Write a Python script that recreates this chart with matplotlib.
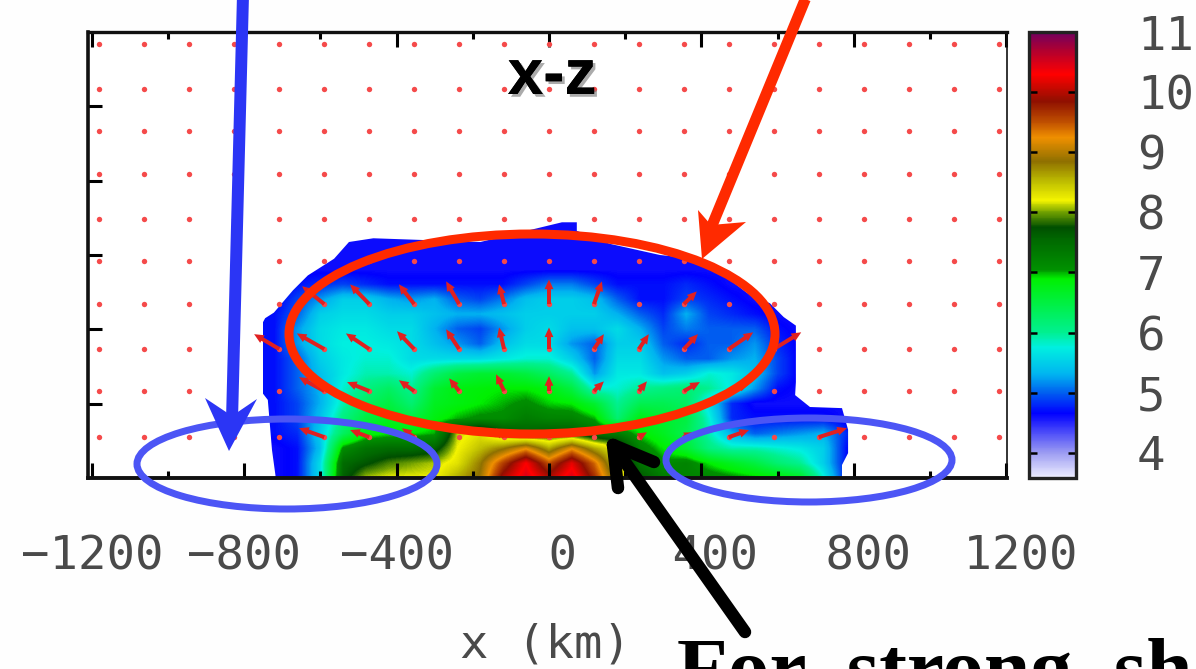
import numpy as np
import matplotlib
matplotlib.use("Agg")
import matplotlib.pyplot as plt
from matplotlib.colors import LinearSegmentedColormap, Normalize
from matplotlib.patches import Ellipse, Polygon
import matplotlib.patheffects as pe

_ = np.nan
# log density field: columns in km, one named row per height (km)
FIELD_X = [-720, -660, -600, -540, -480, -420, -360, -300, -240, -180, -120, -60, 0,
           60, 120, 180, 240, 300, 360, 420, 480, 540, 600, 660, 720, 780]
FIELD_Z = [0, 40, 80, 120, 160, 200, 240, 280, 320, 360, 400, 440, 480, 520, 560, 600, 640, 680]
z000 = [4.6, 4.7, 5.6, 7.6, 8.1, 8.2, 8.2, 8.2, 8.6, 8.9, 10.0, 10.5, 10.0, 10.5, 9.7, 8.6, 7.7, 7.3, 7.2, 7.2, 7.1, 7.0, 6.9, 6.7, 5.8, 4.7]
z040 = [4.6, 4.7, 5.6, 7.5, 7.7, 7.9, 8.0, 8.1, 8.3, 8.8, 9.6, 10.3, 9.5, 10.2, 9.4, 8.3, 7.4, 7.1, 7.2, 6.9, 6.7, 6.5, 6.2, 6.0, 5.5, 4.7]
z080 = [4.6, 4.7, 5.4, 7.1, 7.4, 7.5, 7.5, 7.6, 8.2, 8.5, 8.8, 9.2, 8.6, 9.2, 8.6, 8.2, 7.2, 6.9, 6.6, 6.1, 5.9, 5.9, 5.8, 5.7, 5.5, 4.7]
z120 = [4.7, 4.8, 5.5, 6.3, 6.8, 6.9, 6.9, 7.0, 8.1, 8.3, 7.8, 7.6, 7.7, 7.7, 7.4, 7.3, 6.9, 6.7, 6.4, 5.9, 5.3, 5.0, 5.1, 5.2, 5.3, 4.8]
z160 = [4.7, 4.9, 5.4, 6.1, 6.5, 6.7, 6.5, 6.8, 7.0, 7.1, 7.1, 7.3, 7.2, 7.2, 7.0, 6.2, 6.8, 6.6, 6.5, 5.8, 4.8, 4.7, 4.7, 4.7, 4.7, 4.6]
z200 = [4.7, 4.9, 5.3, 5.9, 6.3, 6.5, 6.2, 6.7, 6.8, 6.9, 7.0, 7.1, 6.95, 6.9, 6.6, 6.0, 6.4, 6.4, 6.3, 5.6, 4.8, 4.6, 4.6, 4.6, 4.6, _]
z240 = [4.7, 5.0, 5.3, 5.8, 6.1, 6.3, 6.0, 6.6, 6.8, 6.85, 6.9, 6.9, 6.8, 6.5, 5.8, 5.8, 6.0, 6.1, 6.2, 6.0, 5.7, 5.2, 4.7, 4.6, _, _]
z280 = [4.7, 5.0, 5.4, 5.7, 5.9, 5.9, 5.8, 6.2, 6.5, 6.6, 6.6, 6.5, 6.3, 6.0, 5.2, 5.7, 5.7, 5.4, 5.5, 5.8, 5.7, 5.4, 4.9, 4.6, _, _]
z320 = [4.7, 5.0, 5.5, 5.7, 5.8, 5.8, 5.6, 5.6, 5.6, 5.6, 5.7, 5.8, 5.8, 5.5, 5.0, 5.6, 5.6, 5.2, 5.0, 5.0, 5.2, 5.3, 4.9, 4.6, _, _]
z360 = [4.7, 5.2, 5.6, 5.75, 5.75, 5.7, 5.6, 5.4, 5.2, 5.0, 5.4, 5.6, 5.6, 5.2, 5.0, 5.5, 5.5, 5.0, 4.8, 5.0, 5.0, 5.2, 4.8, 4.6, _, _]
z400 = [4.7, 5.2, 5.6, 5.7, 5.7, 5.6, 5.6, 5.3, 5.0, 4.9, 5.2, 5.5, 5.6, 5.4, 5.4, 5.6, 5.3, 4.9, 5.1, 5.0, 5.0, 5.0, 4.7, 4.6, _, _]
z440 = [4.7, 5.0, 5.5, 5.6, 5.6, 5.5, 5.5, 5.4, 5.3, 5.3, 5.4, 5.5, 5.5, 5.5, 5.5, 5.3, 5.0, 4.8, 5.3, 4.9, 4.8, 4.7, 4.6, _, _, _]
z480 = [4.6, 4.9, 5.2, 5.5, 5.5, 5.3, 5.2, 5.3, 5.0, 4.9, 5.1, 5.4, 5.5, 5.5, 5.4, 5.0, 4.7, 4.7, 4.9, 4.8, 4.7, 4.6, _, _, _, _]
z520 = [_, 4.7, 4.8, 4.9, 4.8, 4.7, 4.7, 4.7, 4.7, 4.7, 4.7, 4.9, 5.1, 5.1, 4.9, 4.7, 4.7, 4.7, 4.8, 4.7, 4.6, _, _, _, _, _]
z560 = [_, _, 4.6, 4.6, 4.6, 4.6, 4.6, 4.6, 4.6, 4.6, 4.6, 4.6, 4.6, 4.6, 4.6, 4.6, 4.6, 4.6, 4.6, 4.6, _, _, _, _, _, _]
z600 = [_, _, _, 4.6, 4.6, 4.6, 4.6, 4.6, 4.6, 4.6, 4.6, 4.6, 4.6, 4.6, 4.6, 4.6, 4.6, 4.6, 4.6, _, _, _, _, _, _, _]
z640 = [_, _, _, _, 4.6, 4.6, 4.6, 4.6, 4.6, 4.6, 4.6, 4.6, 4.6, 4.6, 4.6, 4.6, _, _, _, _, _, _, _, _, _, _]
z680 = [_, _, _, _, _, _, _, _, _, _, _, _, 4.6, 4.6, 4.6, _, _, _, _, _, _, _, _, _, _, _]
FILL_VALUE = 4.6

# outline of the shocked gas (km)
EDGE_X = [-717, -727, -738, -753, -753, -745, -722, -672, -633, -564, -525, -461, -180, 34, 34, 73, 73,
          160, 291, 405, 520, 580, 616, 648, 648, 646, 685, 769, 785, 785, 769, 769]
EDGE_Z = [0, 75, 210, 230, 415, 430, 445, 505, 545, 590, 635, 645, 635, 688, 688, 688, 665, 630, 600, 588, 498, 470, 433, 410, 258, 223, 191, 188, 130, 67, 35, 0]

# velocity grid (km positions) and displacement (km) on rows that show arrows
GRID_X = [-1180, -1062, -944, -826, -708, -590, -472, -354, -236, -118, 0,
          118, 236, 354, 472, 590, 708, 826, 944, 1062, 1180]
GRID_Z = [1168, 1047, 934, 818, 697, 584, 468, 347, 234, 110]
ROW468_X = [-590, -472, -354, -236, -118, 0, 118, 236, 354]
ROW468_U = [-58, -50, -40, -34, -13, 0, 21, 0, 34]
ROW468_W = [48, 53, 53, 61, 53, 66, 61, 0, 34]
ROW347_X = [-708, -590, -472, -354, -236, -118, 0, 118, 236, 354, 472, 590]
ROW347_U = [-66, -72, -61, -45, -34, -13, 0, 26, 26, 37, 64, 72]
ROW347_W = [40, 42, 42, 48, 53, 58, 58, 40, 40, 40, 45, 45]
ROW234_X = [-590, -472, -354, -236, -118, 0, 118, 236, 354, 472]
ROW234_U = [-66, -58, -40, -26, -21, 0, 26, 21, 42, 53]
ROW234_W = [37, 24, 29, 34, 45, 40, 26, 26, 24, 19]
ROW110_X = [-590, -472, -354, -236, -118, 0, 118, 236, 354, 472, 590, 708]
ROW110_U = [-66, -50, -32, 0, -21, 0, 0, 21, 26, 53, 0, 74]
ROW110_W = [24, 19, 24, 0, 24, 0, 0, 13, 13, 19, 0, 24]

# colour scale
SCALE_V = [3.58, 4.0, 4.65, 5.0, 5.3, 5.75, 6.0, 6.5, 6.9, 7.05, 7.55, 7.75, 8.0, 8.2, 8.5,
           8.85, 9.25, 9.5, 9.85, 10.3, 10.7, 11.0]
SCALE_C = ["#eeeeff", "#9a9af2", "#0000ff", "#0060f0", "#00b4f0", "#00f0e0", "#00f090", "#00f040",
           "#00f000", "#009000", "#006800", "#004f00", "#70a000", "#f4f400", "#c0c000", "#8f7000",
           "#f09000", "#c05000", "#8f1000", "#ff0000", "#b00030", "#700060"]
CBAR_TICKS = [4, 5, 6, 7, 8, 9, 10, 11]
X_MAJOR = [-1200, -800, -400, 0, 400, 800, 1200]
X_LABELS = ["\u22121200", "\u2212800", "\u2212400", " 0", " 400", " 800", " 1200"]
X_MINOR = [-1000, -600, -200, 200, 600, 1000]
Z_TICKS = [200, 400, 600, 800, 1000]

W, H = 1196, 669
fig = plt.figure(figsize=(W / 100, H / 100), dpi=100, facecolor="#fefefe")
def axbox(l, t, r, b):
    return [l / W, 1 - b / H, (r - l) / W, (b - t) / H]

ax = fig.add_axes(axbox(88, 32, 1007, 478))

vmin, vmax = SCALE_V[0], SCALE_V[-1]
pos = [(v - vmin) / (vmax - vmin) for v in SCALE_V]
cmap = LinearSegmentedColormap.from_list("dens", list(zip(pos, SCALE_C)), N=512)
norm = Normalize(vmin, vmax)
rows = [z000, z040, z080, z120, z160, z200, z240, z280, z320, z360, z400, z440, z480, z520, z560, z600, z640, z680]
field = np.nan_to_num(np.array(rows), nan=FILL_VALUE)
dx, dz = FIELD_X[1] - FIELD_X[0], FIELD_Z[1] - FIELD_Z[0]
im = ax.imshow(field, origin="lower", cmap=cmap, norm=norm, aspect="auto", interpolation="bilinear",
               extent=[FIELD_X[0] - dx / 2, FIELD_X[-1] + dx / 2, FIELD_Z[0] - dz / 2, FIELD_Z[-1] + dz / 2])
ax.set_xlim((88 - 549) / 0.381, (1007 - 549) / 0.381)
ax.set_ylim(0, 1200)
edge = Polygon(np.column_stack([EDGE_X, EDGE_Z]), closed=True, transform=ax.transData, fc="none", ec="none")
ax.add_patch(edge)
im.set_clip_path(edge)

gx, gz = np.meshgrid(GRID_X, GRID_Z)
ax.scatter(gx.ravel(), gz.ravel(), s=15, color="#f54a4a", linewidths=0, zorder=3)
for z, xs, us, ws in [(468, ROW468_X, ROW468_U, ROW468_W), (347, ROW347_X, ROW347_U, ROW347_W),
                      (234, ROW234_X, ROW234_U, ROW234_W), (110, ROW110_X, ROW110_U, ROW110_W)]:
    ax.quiver(xs, [z] * len(xs), us, ws, angles="xy", scale_units="xy", scale=1, units="dots",
              width=4, headwidth=2.2, headlength=2.4, headaxislength=2.4, color="#e02020", zorder=4,
              minlength=0)

ax.set_xticks(X_MAJOR)
ax.set_xticklabels(X_LABELS, family="DejaVu Sans Mono", fontsize=34, color="#4a4a4a")
ax.set_xticks(X_MINOR, minor=True)
ax.set_yticks(Z_TICKS)
ax.set_yticklabels([])
ax.tick_params(axis="x", which="major", direction="in", length=11, width=2.2, top=True, pad=41, color="black")
ax.tick_params(axis="x", which="minor", direction="in", length=5, width=2.2, top=True)
ax.tick_params(axis="y", direction="in", length=10, width=2.2, left=True, right=False)
for s, lw in [("left", 2.6), ("top", 2.4), ("bottom", 2.8), ("right", 1.2)]:
    ax.spines[s].set_linewidth(lw)
    ax.spines[s].set_color("#111111")

cax = fig.add_axes(axbox(1029, 32, 1076, 478))
cb = fig.colorbar(im, cax=cax, ticks=CBAR_TICKS)
cb.outline.set_linewidth(2.4)
cb.outline.set_edgecolor("#222222")
cax.tick_params(axis="y", which="major", direction="in", left=True, right=True, length=6, width=1.8,
                pad=44, labelsize=34, labelcolor="#4a4a4a")
for t in cax.get_yticklabels():
    t.set_family("DejaVu Sans Mono")

# annotation layer in picture coordinates
ov = fig.add_axes([0, 0, 1, 1], facecolor="none")
ov.set_xlim(0, W)
ov.set_ylim(H, 0)
ov.axis("off")
RED, BLUE, ELL = "#ff2a00", "#2b35f5", "#4c55f5"
px = 0.72
ov.add_patch(Ellipse((532, 334), 486, 200, fill=False, ec=RED, lw=9 * px))
ov.add_patch(Ellipse((287, 464), 300, 90, fill=False, ec=ELL, lw=7 * px))
ov.add_patch(Ellipse((809, 460), 286, 84, fill=False, ec=ELL, lw=7 * px))
ov.plot([243, 232], [-5, 420], color=BLUE, lw=12 * px, solid_capstyle="butt")
ov.add_patch(Polygon([(229, 451), (205, 398), (232, 416), (257, 399)], closed=True, fc=BLUE, ec="none"))
ov.plot([807, 711], [-5, 228], color=RED, lw=11 * px, solid_capstyle="butt")
ov.add_patch(Polygon([(702, 259), (698, 210), (711, 225), (746, 222)], closed=True, fc=RED, ec="none"))
for seg in [((745, 632), (613, 445)), ((613, 445), (618, 488)), ((613, 445), (654, 462))]:
    ov.plot(*zip(*seg), color="black", lw=12.5 * px, solid_capstyle="round")

ov.text(552, 77, "x-z", ha="center", va="center", family="Liberation Sans", weight="bold", fontsize=46,
        color="black", path_effects=[pe.withSimplePatchShadow(offset=(2, -2), shadow_rgbFace="#888888", alpha=0.7), pe.Normal()])
ov.text(545, 645, "x (km)", ha="center", va="center", family="DejaVu Sans Mono", fontsize=34, color="#4a4a4a")
ov.text(677, 695, "For  strong  sh", ha="left", va="baseline", family="Liberation Serif", weight="bold",
        fontsize=60, color="black", clip_on=False)

fig.savefig("out.png", dpi=100, facecolor=fig.get_facecolor())
